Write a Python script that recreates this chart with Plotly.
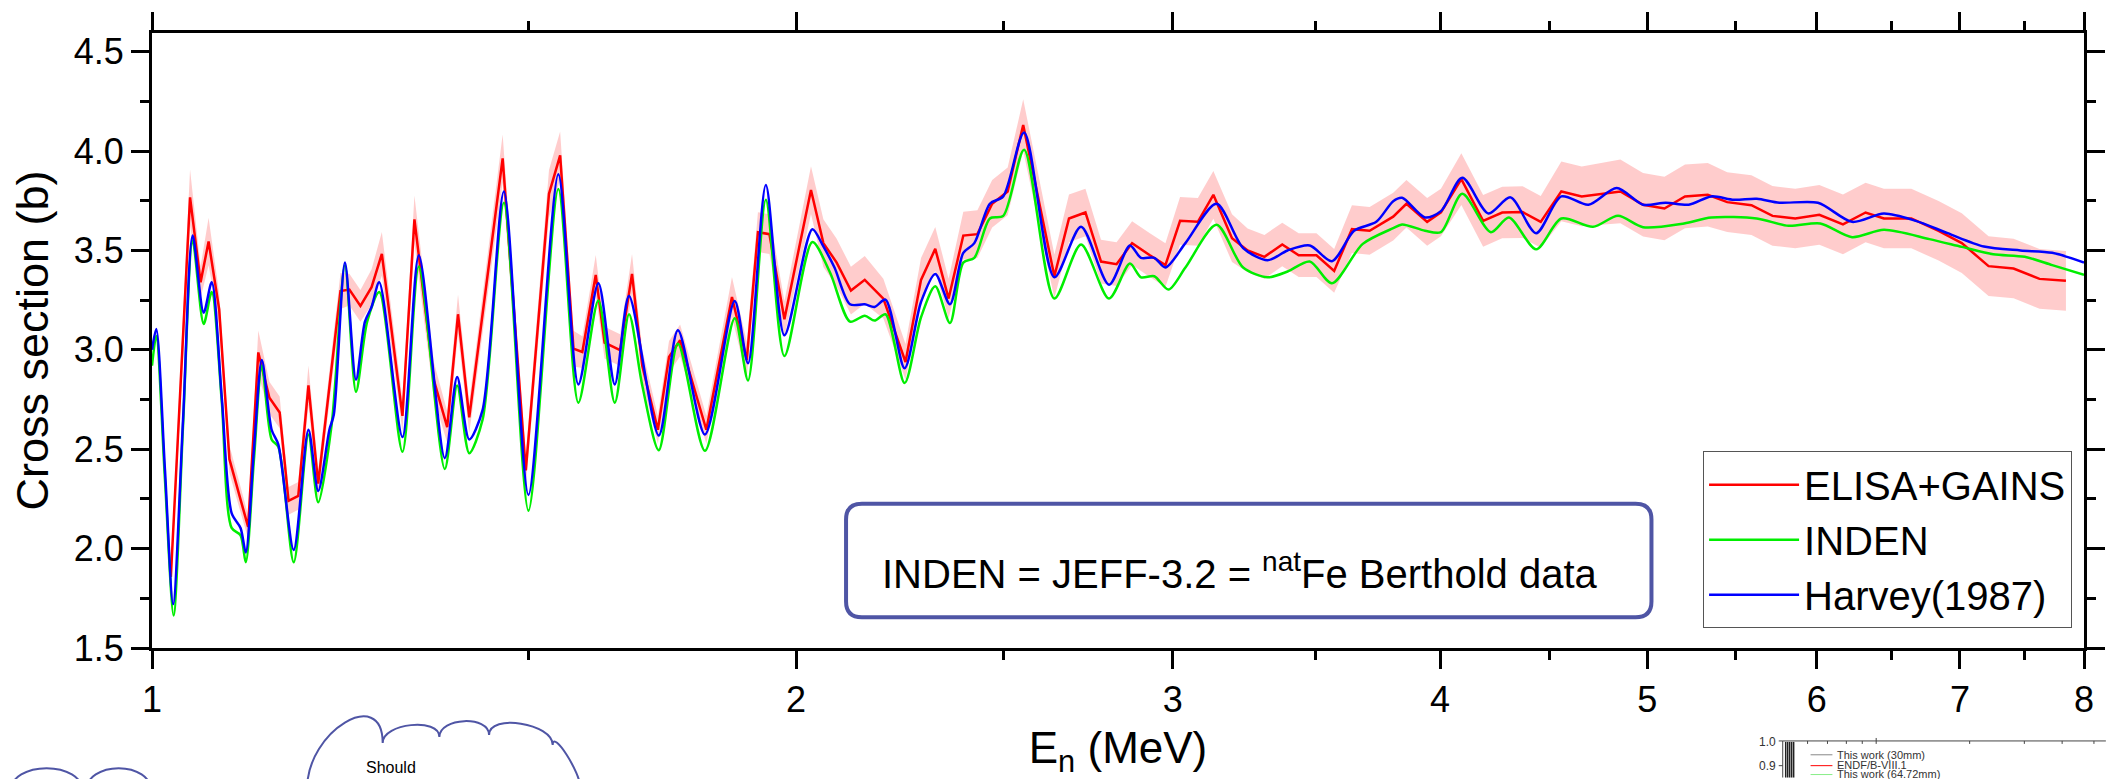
import numpy as np
import plotly.graph_objects as go

# ---------------- data ----------------
harvey_E = [1.000, 1.0046, 1.014, 1.023, 1.034, 1.0447, 1.0572, 1.0664, 1.078, 1.0895, 1.1000, 1.1062,
            1.116, 1.1255, 1.1374, 1.1456, 1.1648, 1.1834, 1.1959, 1.2104, 1.2161, 1.2308, 1.2455,
            1.2576, 1.2666, 1.2771, 1.3094, 1.3327, 1.3704, 1.3888, 1.4070, 1.4273, 1.4605, 1.4996,
            1.5486, 1.5823, 1.6168, 1.6456, 1.6710, 1.7254, 1.7613, 1.8133, 1.8723, 1.8994, 1.9361,
            1.9752, 2.0355, 2.0598, 2.0846, 2.1197, 2.1536, 2.1763, 2.2023, 2.2480, 2.2881, 2.3234,
            2.3605, 2.3946, 2.4232, 2.4641, 2.4998, 2.5566, 2.6412, 2.7181, 2.8012, 2.8649, 2.8991,
            2.9410, 2.9765, 3.0413, 3.1447, 3.2362, 3.3226, 3.3948, 3.4768, 3.5607, 3.6467, 3.7349,
            3.8035, 3.840, 3.936, 4.004, 4.097, 4.214, 4.315, 4.436, 4.558, 4.693, 4.838, 4.977,
            5.100, 5.228, 5.356, 5.489, 5.625, 5.764, 6.008, 6.233, 6.450, 6.675, 6.908, 7.183,
            7.471, 7.731, 8.000]
harvey_xs = [3.00, 3.105, 2.40, 1.721, 2.65, 3.575, 3.187, 3.340, 2.76, 2.178, 2.104, 1.981,
             2.50, 2.949, 2.598, 2.524, 1.993, 2.598, 2.290, 2.598, 2.673, 3.439, 2.850,
             3.142, 3.216, 3.340, 2.561, 3.476, 2.455, 2.863, 2.549, 2.697, 3.797, 2.270,
             3.884, 2.826, 3.335, 2.826, 3.271, 2.569, 3.098, 2.574, 3.246, 2.932, 3.829,
             3.073, 3.607, 3.520, 3.414, 3.229, 3.229, 3.216, 3.253, 2.907, 3.241, 3.382,
             3.229, 3.488, 3.537, 3.735, 3.772, 4.094, 3.365, 3.619, 3.328, 3.525, 3.463,
             3.463, 3.414, 3.537, 3.735, 3.512, 3.451, 3.500, 3.525, 3.446, 3.599, 3.644,
             3.748, 3.765, 3.666, 3.698, 3.866, 3.686, 3.767, 3.587, 3.772, 3.730, 3.814, 3.730,
             3.740, 3.730, 3.772, 3.755, 3.760, 3.740, 3.740, 3.644, 3.686, 3.649, 3.587, 3.520,
             3.500, 3.488, 3.439]

inden_E = [1.000, 1.0046, 1.014, 1.0235, 1.034, 1.0447, 1.0572, 1.0664, 1.078, 1.0895, 1.1000, 1.1062,
           1.116, 1.1255, 1.1374, 1.1456, 1.1648, 1.1834, 1.1959, 1.2133, 1.2308, 1.2455, 1.2606,
           1.2771, 1.3094, 1.3327, 1.3704, 1.3888, 1.4070, 1.4273, 1.4605, 1.4996, 1.5486, 1.5823,
           1.6168, 1.6456, 1.6710, 1.6950, 1.7254, 1.7613, 1.8133, 1.8723, 1.8994, 1.9361, 1.9752,
           2.0355, 2.0746, 2.1197, 2.1536, 2.1763, 2.2023, 2.2480, 2.2881, 2.3234, 2.3605, 2.3946,
           2.4232, 2.4641, 2.4998, 2.5566, 2.6412, 2.7181, 2.8012, 2.8649, 2.8991, 2.9410, 2.9864,
           3.0413, 3.1447, 3.2362, 3.3226, 3.3948, 3.4768, 3.5607, 3.681, 3.8035, 3.840, 3.936,
           4.004, 4.097, 4.225, 4.308, 4.436, 4.558, 4.716, 4.845, 4.977, 5.202, 5.356, 5.625,
           5.821, 6.023, 6.233, 6.450, 6.774, 7.014, 7.255, 7.506, 7.731, 8.000]
inden_xs = [2.92, 3.07, 2.35, 1.664, 2.62, 3.550, 3.130, 3.291, 2.74, 2.104, 2.067, 1.931,
            2.45, 2.920, 2.549, 2.512, 1.931, 2.574, 2.233, 2.623, 3.426, 2.789, 3.142,
            3.291, 2.487, 3.419, 2.400, 2.821, 2.480, 2.648, 3.740, 2.191, 3.809, 2.734,
            3.248, 2.734, 3.179, 2.821, 2.495, 3.031, 2.492, 3.159, 2.846, 3.755, 2.969,
            3.542, 3.389, 3.142, 3.172, 3.147, 3.179, 2.833, 3.164, 3.320, 3.135, 3.439,
            3.463, 3.661, 3.674, 4.007, 3.258, 3.530, 3.258, 3.434, 3.365, 3.370, 3.303,
            3.414, 3.629, 3.414, 3.365, 3.394, 3.444, 3.335, 3.533, 3.612, 3.631, 3.599,
            3.592, 3.785, 3.592, 3.666, 3.506, 3.661, 3.619, 3.674, 3.617, 3.636, 3.666, 3.661,
            3.624, 3.636, 3.567, 3.604, 3.557, 3.518, 3.481, 3.468, 3.426, 3.377]

elisa_E = [1.0205, 1.0418, 1.0537, 1.0628, 1.0750, 1.0869, 1.1090, 1.1212, 1.1347, 1.1473, 1.1583,
           1.1705, 1.1834, 1.1959, 1.2249, 1.2367, 1.2515, 1.2666, 1.2807, 1.3094, 1.3264, 1.3545,
           1.3740, 1.3901, 1.4070, 1.4585, 1.4953, 1.5331, 1.5516, 1.5740, 1.5891, 1.6122, 1.6276,
           1.6551, 1.6764, 1.6950, 1.7237, 1.7445, 1.7655, 1.8160, 1.8668, 1.8968, 1.9197, 1.9436,
           1.9752, 2.0325, 2.0598, 2.0895, 2.1218, 2.1536, 2.1972, 2.2502, 2.2881, 2.3234, 2.3570,
           2.3946, 2.4312, 2.4702, 2.5117, 2.5541, 2.6412, 2.6831, 2.7310, 2.7772, 2.8240, 2.8717,
           2.9271, 2.9765, 3.0238, 3.0823, 3.1342, 3.1977, 3.2518, 3.3113, 3.3754, 3.4356, 3.5020,
           3.5693, 3.6383, 3.7082, 3.8035, 3.858, 3.945, 4.004, 4.093, 4.190, 4.277, 4.372, 4.458,
           4.558, 4.659, 4.857, 4.977, 5.093, 5.207, 5.336, 5.449, 5.593, 5.721, 5.863, 6.017,
           6.172, 6.324, 6.450, 6.643, 6.841, 7.014, 7.219, 7.416, 7.626, 7.846]
elisa_xs = [1.857, 3.767, 3.340, 3.545, 3.204, 2.450, 2.109, 2.987, 2.759, 2.685, 2.240,
            2.265, 2.821, 2.327, 3.296, 3.303, 3.221, 3.315, 3.483, 2.668, 3.656, 2.846,
            2.611, 3.179, 2.660, 3.963, 2.393, 3.785, 3.978, 3.006, 2.989, 3.377, 3.036,
            2.999, 3.382, 2.920, 2.598, 2.964, 3.048, 2.598, 3.266, 2.949, 3.592, 3.582,
            3.154, 3.804, 3.537, 3.439, 3.298, 3.352, 3.258, 2.939, 3.352, 3.508, 3.258,
            3.575, 3.582, 3.735, 3.797, 4.131, 3.370, 3.661, 3.691, 3.444, 3.431, 3.537,
            3.476, 3.426, 3.649, 3.644, 3.780, 3.562, 3.500, 3.468, 3.530, 3.476, 3.476,
            3.397, 3.607, 3.599, 3.670, 3.735, 3.644, 3.691, 3.859, 3.649, 3.691, 3.693, 3.644,
            3.797, 3.772, 3.797, 3.730, 3.711, 3.772, 3.780, 3.743, 3.728, 3.674, 3.661, 3.679,
            3.631, 3.691, 3.661, 3.661, 3.599, 3.537, 3.421, 3.409, 3.357, 3.347]
elisa_err = [0.06, 0.14, 0.08, 0.12, 0.08, 0.07, 0.06, 0.11, 0.08, 0.08, 0.07,
             0.07, 0.10, 0.07, 0.09, 0.08, 0.08, 0.09, 0.11, 0.08, 0.12, 0.09,
             0.08, 0.10, 0.08, 0.12, 0.08, 0.12, 0.12, 0.09, 0.08, 0.10, 0.08,
             0.08, 0.10, 0.08, 0.07, 0.08, 0.08, 0.07, 0.10, 0.09, 0.10, 0.10,
             0.09, 0.12, 0.12, 0.12, 0.12, 0.12, 0.10, 0.09, 0.11, 0.11, 0.10,
             0.12, 0.12, 0.12, 0.12, 0.13, 0.11, 0.12, 0.12, 0.11, 0.11, 0.11,
             0.11, 0.11, 0.12, 0.12, 0.12, 0.12, 0.11, 0.11, 0.11, 0.11, 0.11,
             0.11, 0.12, 0.12, 0.12, 0.12, 0.12, 0.12, 0.13, 0.13, 0.13, 0.13, 0.13,
             0.15, 0.15, 0.16, 0.16, 0.16, 0.16, 0.16, 0.15, 0.15, 0.15, 0.15, 0.15,
             0.15, 0.15, 0.15, 0.15, 0.15, 0.15, 0.15, 0.15, 0.15, 0.15]

series_names = ["ELISA+GAINS", "INDEN", "Harvey(1987)"]
x_ticks = [1, 2, 3, 4, 5, 6, 7, 8]
x_minor = [1.5, 2.5, 3.5, 4.5, 5.5, 6.5, 7.5]
y_ticks = [1.5, 2.0, 2.5, 3.0, 3.5, 4.0, 4.5]
y_ticktext = ["1.5", "2.0", "2.5", "3.0", "3.5", "4.0", "4.5"]
note_text = "INDEN = JEFF-3.2 = <sup>nat</sup>Fe Berthold data"

# ---------------- figure ----------------
FONT = "Arial, Liberation Sans, sans-serif"
W, H = 2117, 779
L, R, T, B = 152, 22, 26, 131
PW, PH = W - L - R, H - T - B

e_arr = np.array(elisa_E)
y_arr = np.array(elisa_xs)
err = np.array(elisa_err)

fig = go.Figure()
fig.add_trace(go.Scatter(x=e_arr, y=y_arr - err, mode="lines", line=dict(width=0, color="rgba(0,0,0,0)"),
                         showlegend=False, hoverinfo="skip"))
fig.add_trace(go.Scatter(x=e_arr, y=y_arr + err, mode="lines", line=dict(width=0, color="rgba(0,0,0,0)"),
                         fill="tonexty", fillcolor="rgba(255,0,0,0.2)", showlegend=False, hoverinfo="skip"))
fig.add_trace(go.Scatter(x=elisa_E, y=elisa_xs, mode="lines", name=series_names[0],
                         line=dict(color="#FF0000", width=2.5)))
fig.add_trace(go.Scatter(x=inden_E, y=inden_xs, mode="lines", name=series_names[1],
                         line=dict(color="#00EE00", width=2.5, shape="spline", smoothing=0.8)))
fig.add_trace(go.Scatter(x=harvey_E, y=harvey_xs, mode="lines", name=series_names[2],
                         line=dict(color="#0000FF", width=2.5, shape="spline", smoothing=0.8)))


def P(px, py):
    return f"{(px - L) / PW:.5f},{(H - B - py) / PH:.5f}"


def rounded_rect(x0, y0, x1, y1, r):
    return (f"M {P(x0 + r, y0)} L {P(x1 - r, y0)} Q {P(x1, y0)} {P(x1, y0 + r)} "
            f"L {P(x1, y1 - r)} Q {P(x1, y1)} {P(x1 - r, y1)} L {P(x0 + r, y1)} "
            f"Q {P(x0, y1)} {P(x0, y1 - r)} L {P(x0, y0 + r)} Q {P(x0, y0)} {P(x0 + r, y0)} Z")


def bumps(pts, h):
    # chain of cubic arcs through successive points (cloud outline)
    d = f"M {P(*pts[0])}"
    for (ax, ay), (bx, by), hh in zip(pts[:-1], pts[1:], h):
        d += f" C {P(ax, ay - hh)} {P(bx, by - hh)} {P(bx, by)}"
    return d


shapes = []
# annotation frame
shapes.append(dict(type="path", xref="paper", yref="paper", path=rounded_rect(850, 502, 1660, 617, 16),
                   line=dict(color="#4F55A5", width=4), fillcolor="rgba(0,0,0,0)"))
# clouds (slide decoration, below the chart)
cloud_col = "#4F55A5"
shapes.append(dict(type="path", xref="paper", yref="paper",
                   path=bumps([(308, 790), (384, 744), (441, 738), (491, 736), (555, 746), (583, 790)],
                              [58, 20, 20, 22, 16]),
                   line=dict(color=cloud_col, width=2)))
shapes.append(dict(type="path", xref="paper", yref="paper",
                   path=bumps([(9, 795), (83, 795)], [34]), line=dict(color=cloud_col, width=2)))
shapes.append(dict(type="path", xref="paper", yref="paper",
                   path=bumps([(85, 795), (152, 795)], [34]), line=dict(color=cloud_col, width=2)))
# small inset chart fragment (bottom right)
shapes.append(dict(type="path", xref="paper", yref="paper",
                   path=f"M {P(1792, 779)} L {P(1792, 742)} L {P(2117, 742)}", line=dict(color="#444", width=1)))
for tx in [1817, 1837, 1856, 1872, 1980, 2035, 2073, 2105]:
    shapes.append(dict(type="path", xref="paper", yref="paper", path=f"M {P(tx, 742)} L {P(tx, 745)}",
                       line=dict(color="#444", width=1)))
shapes.append(dict(type="path", xref="paper", yref="paper", path=f"M {P(1886, 739)} L {P(1886, 745)}",
                   line=dict(color="#444", width=1)))
for ty in [742, 767]:
    shapes.append(dict(type="path", xref="paper", yref="paper", path=f"M {P(1788, ty)} L {P(1792, ty)}",
                       line=dict(color="#444", width=1)))
for bx in [1795, 1797, 1799, 1801, 1803]:
    shapes.append(dict(type="path", xref="paper", yref="paper", path=f"M {P(bx, 743)} L {P(bx, 779)}",
                       line=dict(color="#222", width=1.5)))
for (ly, lc) in [(756, "#888888"), (767, "#FF0000"), (776, "#88EE88")]:
    shapes.append(dict(type="path", xref="paper", yref="paper", path=f"M {P(1820, ly)} L {P(1842, ly)}",
                       line=dict(color=lc, width=1)))

annotations = []
annotations.append(dict(text=note_text, xref="paper", yref="paper", x=(1246 - L) / PW, y=(H - B - 570) / PH,
                        xanchor="center", yanchor="middle", showarrow=False,
                        font=dict(family=FONT, size=40, color="black")))
annotations.append(dict(text="Should", xref="paper", yref="paper", x=(365 - L) / PW, y=(H - B - 758) / PH,
                        xanchor="left", yanchor="top", showarrow=False,
                        font=dict(family=FONT, size=16, color="black")))
for (t, ty) in [("1.0", 743), ("0.9", 767)]:
    annotations.append(dict(text=t, xref="paper", yref="paper", x=(1787 - L) / PW, y=(H - B - ty) / PH,
                            xanchor="right", yanchor="middle", showarrow=False,
                            font=dict(family=FONT, size=12, color="#333")))
for (t, ty) in [("This work (30mm)", 756), ("ENDF/B-VIII.1", 766), ("This work (64.72mm)", 775)]:
    annotations.append(dict(text=t, xref="paper", yref="paper", x=(1845 - L) / PW, y=(H - B - ty) / PH,
                            xanchor="left", yanchor="middle", showarrow=False,
                            font=dict(family=FONT, size=11, color="#333")))

axis_common = dict(showline=True, linewidth=3, linecolor="black", mirror="ticks", ticks="outside",
                   ticklen=18, tickwidth=3, tickcolor="black", showgrid=False, zeroline=False,
                   tickfont=dict(family=FONT, size=36, color="black"))

fig.update_layout(
    width=W, height=H, margin=dict(l=L, r=R, t=T, b=B, pad=0),
    paper_bgcolor="white", plot_bgcolor="white",
    font=dict(family=FONT, color="black"),
    xaxis=dict(type="log", range=[0, np.log10(8)], tickmode="array", tickvals=x_ticks,
               ticktext=[str(v) for v in x_ticks],
               minor=dict(tickmode="array", tickvals=x_minor, ticks="outside", ticklen=9, tickwidth=3,
                          tickcolor="black", showgrid=False),
               title=dict(text="E<sub>n</sub> (MeV)", font=dict(family=FONT, size=44), standoff=14),
               **axis_common),
    yaxis=dict(range=[1.5, 4.594], tickmode="array", tickvals=y_ticks, ticktext=y_ticktext,
               minor=dict(tick0=1.5, dtick=0.25, ticks="outside", ticklen=9, tickwidth=3,
                          tickcolor="black", showgrid=False),
               title=dict(text="Cross section (b)", font=dict(family=FONT, size=45), standoff=12),
               **axis_common),
    legend=dict(x=(2083 - L) / PW, y=(H - B - 628) / PH, xanchor="right", yanchor="bottom",
                bgcolor="white", bordercolor="#555555", borderwidth=1, traceorder="normal",
                font=dict(family=FONT, size=40, color="black"), itemwidth=90, tracegroupgap=0),
    shapes=shapes, annotations=annotations,
    showlegend=True,
)

fig.write_html("out.html")
